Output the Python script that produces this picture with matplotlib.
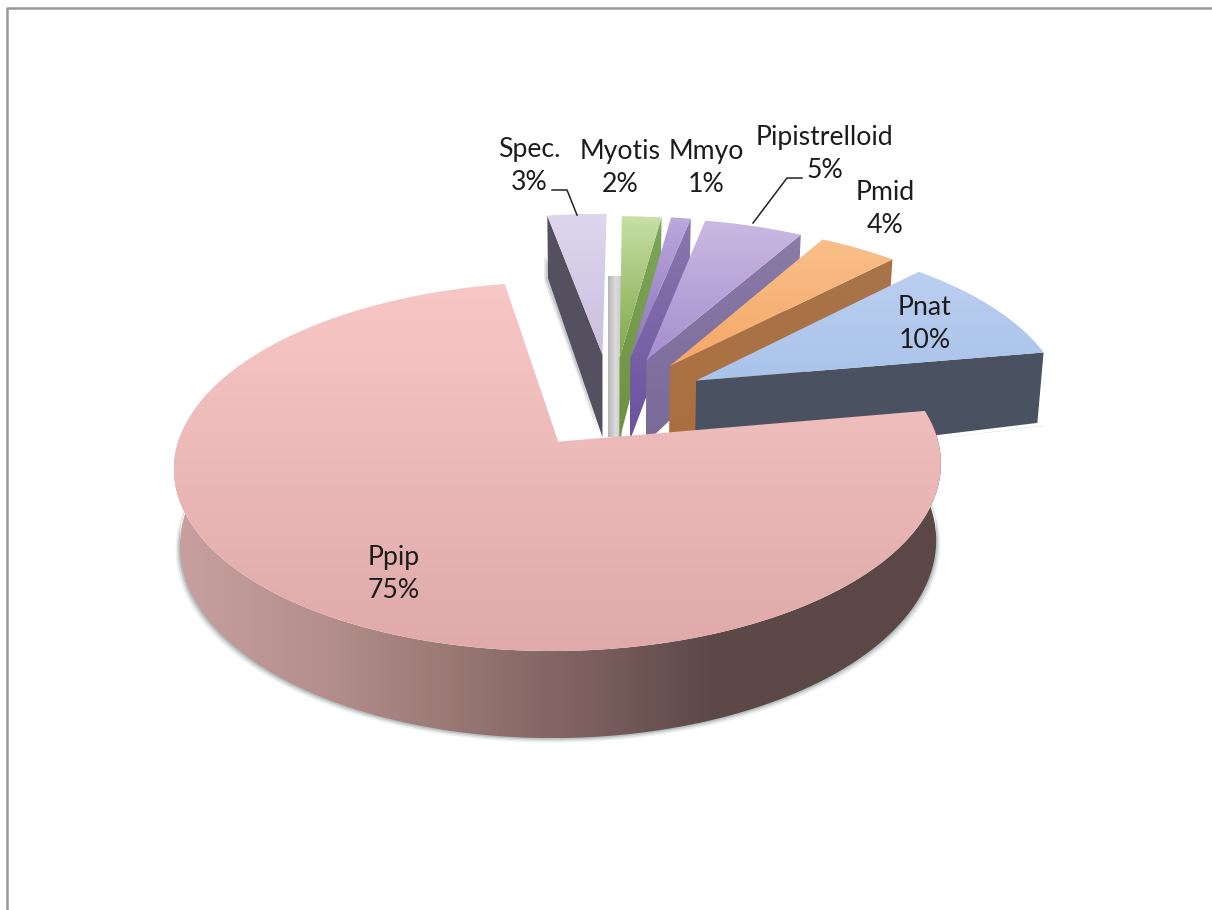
import numpy as np
import matplotlib
matplotlib.use('Agg')
import matplotlib.pyplot as plt
from matplotlib.colors import LinearSegmentedColormap
from matplotlib.patches import Polygon

# data, counted anticlockwise from the start of the big slice
names = ['Ppip', 'Pnat', 'Pmid', 'Pipistrelloid', 'Mmyo', 'Myotis', 'Spec.']
percents = [75, 10, 4, 5, 1, 2, 3]

# explode offset of every slice in pie units
shift_x = [-0.11, 0.265, 0.195, 0.13, 0.085, 0.055, 0.007]
shift_y = [-0.243, 0.11, 0.20, 0.235, 0.25, 0.25, 0.27]

# gradient of the top face (far end, near end) and of the cut face
top_far = ['#f7c7c6', '#bbcff0', '#f9bf8a', '#cbb9e2', '#bba8dc', '#c8e0a4', '#ded6ed']
top_near = ['#dfaaa9', '#a9c3e9', '#f5a865', '#a68fce', '#8d74bd', '#7fa54c', '#c9bfe0']
cut_far = ['#000000', '#4a5261', '#a8744a', '#8a7aa8', '#8b78ad', '#7fa55a', '#55505f']
cut_near = ['#000000', '#4a5261', '#ac6f3e', '#7a6a98', '#6a50a0', '#6c9140', '#55505f']

# label anchors in pixels
label_x = [394, 925, 885, 825, 706, 620, 529]
label_y = [574, 324, 209, 154, 168, 168, 166]

start_angle = 100
x0, y0 = 600, 399
scale_x, scale_y = 368, 170
persp = 0.13
depth = 73
squeeze = 0.986


def project(px, py):
    w = 1 + persp * py
    return x0 + scale_x * px / w, y0 - scale_y * py / w


def lower(sx, sy, py):
    w = 1 + persp * py
    return x0 + (sx - x0) * squeeze, sy + depth / w


def gradient_fill(ax, xy, colors, vertical, z):
    cmap = LinearSegmentedColormap.from_list('g', colors)
    xmin, ymin = xy.min(axis=0)
    xmax, ymax = xy.max(axis=0)
    ramp = np.linspace(0, 1, 256)
    ramp = ramp[:, None] if vertical else ramp[None, :]
    im = ax.imshow(ramp, cmap=cmap, extent=(xmin, xmax, ymax, ymin),
                   aspect='auto', interpolation='bilinear', zorder=z)
    clip = Polygon(xy, closed=True, transform=ax.transData, fc='none', ec='none')
    ax.add_patch(clip)
    im.set_clip_path(clip)


fig = plt.figure(figsize=(12.12, 9.10), dpi=100)
ax = fig.add_axes([0, 0, 1, 1])
ax.set_xlim(0, 1212)
ax.set_ylim(910, 0)
ax.axis('off')

# slide frame, only top and left show
ax.plot([1212, 6.5, 6.5], [7.5, 7.5, 910], color='#9a9a9a', lw=1.8, zorder=1)

angles = np.cumsum([0] + percents) * 3.6 + start_angle
draw_order = [6, 5, 4, 3, 2, 1, 0]

for n, i in enumerate(draw_order):
    z = 10 + n * 5
    a = np.radians(np.linspace(angles[i], angles[i + 1], 200))
    px = shift_x[i] + np.cos(a)
    py = shift_y[i] + np.sin(a)
    ax_x, ax_y = project(shift_x[i], shift_y[i])
    sx, sy = project(px, py)
    bx, by = lower(sx, sy, py)
    apx, apy = lower(ax_x, ax_y, shift_y[i])
    apy = apy + 12

    if i == 0:
        # curved side of the big slice, only the front part, plus a thin shadow
        front = np.degrees(a) > 178
        side = np.vstack([np.column_stack([sx[front], sy[front]]),
                          np.column_stack([bx[front], by[front]])[::-1]])
        for off, alpha in [(4.5, 0.12), (3, 0.2), (1.5, 0.35)]:
            shad_x = x0 - 40 + (bx[front] - x0 + 40) * (1 + off / 400)
            ax.fill(np.r_[shad_x, bx[front][::-1]], np.r_[by[front] + off, by[front][::-1] - 6],
                    color='#7f8c8c', alpha=alpha, lw=0, zorder=z - 1)
        stops = [(0, '#c8a09f'), (0.2, '#b38e8c'), (0.4, '#93736f'), (0.55, '#7a5e5d'),
                 (0.7, '#5c4948'), (1, '#5a4746')]
        gradient_fill(ax, side, stops, False, z)
    elif i == 6:
        # spec. shows its left cut face and a grey one on the right
        grey_right = project(shift_x[5] + np.cos(a[0]), py[0])[0]
        grey = np.array([[sx[0] + 1, by[0]], [grey_right, by[0]],
                         [grey_right, apy], [sx[0] + 1, apy]])
        gradient_fill(ax, grey, ['#b4b4b4', '#dcdcdc', '#c4c4c4'], False, z)
        ax.fill([ax_x, sx[-1], bx[-1], apx], [ax_y, sy[-1], by[-1], apy],
                color=cut_far[i], lw=0, zorder=z + 1)
        for off, alpha in [(3, 0.2), (1.5, 0.3)]:
            ax.fill([sx[-1] - off, sx[-1] - off, apx - off], [sy[-1] + 40, by[-1] + off, apy],
                    color='#7f8c8c', alpha=alpha, lw=0, zorder=z)
    else:
        # right hand cut face
        cut = np.array([[ax_x, ax_y], [sx[0], sy[0]], [bx[0], by[0]], [apx, apy]])
        gradient_fill(ax, cut, [cut_far[i], cut_near[i]], True, z + 1)
        if i == 1:
            ax.fill([ax_x, sx[0] + 2, bx[0] + 3, apx], [apy + 2, by[0] + 3, by[0] + 3, apy + 3],
                    color='#7f8c8c', alpha=0.3, lw=0, zorder=z)

    top = np.column_stack([np.r_[ax_x, sx], np.r_[ax_y, sy]])
    gradient_fill(ax, top, [top_far[i], top_near[i]], True, z + 2)

# leader lines
ax.plot([552, 567, 577], [190, 190, 215], color='#222222', lw=1.1, zorder=60)
ax.plot([802, 787, 753], [178, 178, 223], color='#222222', lw=1.1, zorder=60)

for i in range(len(names)):
    ax.text(label_x[i], label_y[i], '%s\n%d%%' % (names[i], percents[i]), ha='center', va='center',
            family='Lato', fontsize=19.2, color='#1c1c1c', linespacing=1.38, zorder=70)

fig.savefig('out.png', dpi=100, facecolor='white')
